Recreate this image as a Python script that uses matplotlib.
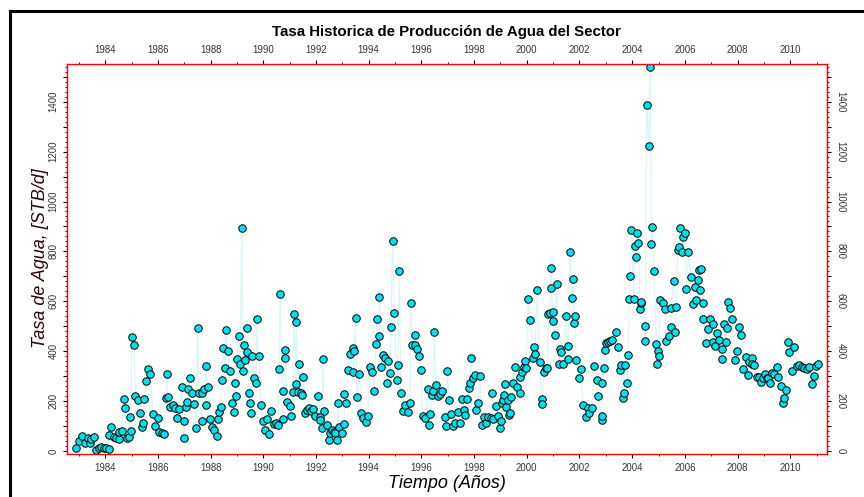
import numpy as np
import matplotlib
matplotlib.use("Agg")
import matplotlib.pyplot as plt
from matplotlib.lines import Line2D
from matplotlib.ticker import MultipleLocator, FuncFormatter

plt.rcParams['font.family'] = ['Liberation Sans', 'DejaVu Sans']

# fecha (años decimales) y tasa de agua [STB/d]
years = [
    1982.90, 1982.99, 1983.12, 1983.24, 1983.33, 1983.41, 1983.46, 1983.56, 1983.66, 1983.75,
    1983.84, 1983.94, 1984.04, 1984.14, 1984.15, 1984.24, 1984.32, 1984.42, 1984.51, 1984.53,
    1984.63, 1984.70, 1984.75, 1984.82, 1984.90, 1984.93, 1984.99, 1985.01, 1985.09, 1985.15,
    1985.24, 1985.31, 1985.39, 1985.43, 1985.49, 1985.56, 1985.63, 1985.72, 1985.81, 1985.90,
    1985.99, 1986.05, 1986.15, 1986.24, 1986.29, 1986.34, 1986.38, 1986.47, 1986.57, 1986.66,
    1986.72, 1986.82, 1986.91, 1986.98, 1987.00, 1987.07, 1987.10, 1987.16, 1987.23, 1987.30,
    1987.39, 1987.45, 1987.51, 1987.56, 1987.66, 1987.68, 1987.75, 1987.81, 1987.84, 1987.89,
    1987.97, 1988.06, 1988.14, 1988.23, 1988.27, 1988.32, 1988.39, 1988.42, 1988.47, 1988.54,
    1988.58, 1988.65, 1988.72, 1988.80, 1988.88, 1988.92, 1988.97, 1989.01, 1989.06, 1989.12,
    1989.18, 1989.23, 1989.25, 1989.31, 1989.39, 1989.40, 1989.47, 1989.49, 1989.55, 1989.58,
    1989.64, 1989.73, 1989.76, 1989.82, 1989.91, 1989.98, 1990.06, 1990.15, 1990.21, 1990.31,
    1990.39, 1990.49, 1990.57, 1990.59, 1990.64, 1990.73, 1990.76, 1990.82, 1990.84, 1990.89,
    1991.00, 1991.07, 1991.13, 1991.15, 1991.24, 1991.25, 1991.33, 1991.34, 1991.43, 1991.48,
    1991.51, 1991.58, 1991.65, 1991.73, 1991.81, 1991.89, 1991.98, 1992.07, 1992.15, 1992.17,
    1992.24, 1992.25, 1992.31, 1992.41, 1992.48, 1992.54, 1992.60, 1992.67, 1992.73, 1992.81,
    1992.83, 1992.86, 1992.98, 1993.07, 1993.08, 1993.13, 1993.21, 1993.30, 1993.40, 1993.42,
    1993.46, 1993.50, 1993.55, 1993.65, 1993.71, 1993.80, 1993.88, 1993.97, 1994.05, 1994.13,
    1994.22, 1994.27, 1994.31, 1994.40, 1994.41, 1994.47, 1994.55, 1994.62, 1994.71, 1994.75,
    1994.81, 1994.84, 1994.91, 1994.97, 1995.07, 1995.11, 1995.16, 1995.22, 1995.30, 1995.39,
    1995.49, 1995.57, 1995.59, 1995.64, 1995.74, 1995.76, 1995.83, 1995.91, 1995.98, 1996.06,
    1996.14, 1996.25, 1996.30, 1996.33, 1996.40, 1996.44, 1996.49, 1996.55, 1996.63, 1996.71,
    1996.80, 1996.90, 1996.93, 1996.98, 1997.05, 1997.12, 1997.20, 1997.28, 1997.38, 1997.47,
    1997.53, 1997.63, 1997.64, 1997.73, 1997.80, 1997.84, 1997.89, 1997.95, 1998.02, 1998.06,
    1998.14, 1998.22, 1998.31, 1998.38, 1998.46, 1998.54, 1998.63, 1998.69, 1998.72, 1998.82,
    1998.92, 1998.98, 1999.01, 1999.07, 1999.10, 1999.14, 1999.17, 1999.22, 1999.28, 1999.32,
    1999.37, 1999.40, 1999.48, 1999.57, 1999.64, 1999.73, 1999.76, 1999.82, 1999.89, 1999.93,
    1999.98, 2000.05, 2000.14, 2000.23, 2000.26, 2000.31, 2000.40, 2000.49, 2000.56, 2000.58,
    2000.65, 2000.72, 2000.78, 2000.81, 2000.87, 2000.91, 2000.93, 2000.99, 2001.00, 2001.07,
    2001.14, 2001.22, 2001.26, 2001.31, 2001.38, 2001.47, 2001.56, 2001.57, 2001.64, 2001.72,
    2001.75, 2001.81, 2001.82, 2001.88, 2001.97, 2002.04, 2002.14, 2002.24, 2002.33, 2002.37,
    2002.47, 2002.55, 2002.65, 2002.72, 2002.84, 2002.85, 2002.87, 2002.92, 2002.97, 2003.02,
    2003.08, 2003.17, 2003.25, 2003.38, 2003.46, 2003.55, 2003.59, 2003.64, 2003.67, 2003.72,
    2003.82, 2003.84, 2003.88, 2003.90, 2003.97, 2004.06, 2004.10, 2004.14, 2004.19, 2004.23,
    2004.31, 2004.32, 2004.35, 2004.49, 2004.50, 2004.55, 2004.64, 2004.68, 2004.73, 2004.77,
    2004.83, 2004.92, 2004.93, 2004.99, 2005.00, 2005.05, 2005.15, 2005.24, 2005.30, 2005.39,
    2005.47, 2005.49, 2005.57, 2005.64, 2005.68, 2005.72, 2005.76, 2005.81, 2005.90, 2005.91,
    2005.99, 2006.06, 2006.13, 2006.22, 2006.29, 2006.38, 2006.44, 2006.50, 2006.54, 2006.57,
    2006.62, 2006.67, 2006.69, 2006.80, 2006.88, 2006.97, 2007.05, 2007.07, 2007.14, 2007.23,
    2007.30, 2007.39, 2007.42, 2007.48, 2007.56, 2007.61, 2007.65, 2007.73, 2007.80, 2007.89,
    2007.96, 2008.06, 2008.13, 2008.21, 2008.30, 2008.40, 2008.44, 2008.53, 2008.55, 2008.63,
    2008.74, 2008.82, 2008.87, 2008.95, 2009.04, 2009.10, 2009.15, 2009.23, 2009.29, 2009.38,
    2009.48, 2009.54, 2009.63, 2009.71, 2009.77, 2009.83, 2009.90, 2009.96, 2010.05, 2010.15,
    2010.24, 2010.33, 2010.43, 2010.53, 2010.63, 2010.72, 2010.82, 2010.91, 2010.98, 2011.06,
]
tasa_agua = [
    11, 41, 60, 31, 51, 31, 47, 57, 4, 11,
    17, 11, 11, 7, 63, 97, 55, 52, 49, 77,
    80, 207, 172, 51, 57, 135, 81, 456, 426, 222,
    204, 151, 97, 111, 207, 281, 327, 307, 147, 100,
    131, 77, 71, 67, 214, 310, 218, 178, 186, 171,
    131, 167, 255, 52, 120, 178, 195, 248, 294, 234,
    188, 93, 492, 231, 121, 231, 247, 186, 339, 255,
    128, 95, 84, 60, 127, 155, 178, 283, 414, 334,
    484, 402, 321, 191, 156, 271, 220, 370, 462, 349,
    895, 321, 425, 365, 396, 493, 231, 192, 151, 381,
    294, 274, 529, 380, 184, 121, 84, 129, 67, 160,
    108, 113, 104, 330, 629, 128, 242, 372, 406, 196,
    182, 141, 235, 550, 267, 517, 236, 350, 234, 224,
    298, 151, 164, 171, 162, 167, 140, 222, 137, 124,
    93, 370, 160, 104, 44, 71, 84, 75, 71, 44,
    194, 97, 71, 108, 227, 191, 325, 389, 413, 317,
    401, 534, 218, 310, 151, 131, 117, 140, 338, 317,
    242, 429, 529, 462, 617, 338, 385, 372, 271, 362,
    311, 498, 840, 554, 283, 343, 723, 234, 162, 186,
    158, 192, 592, 426, 425, 466, 409, 382, 326, 141,
    131, 248, 103, 147, 226, 240, 477, 263, 220, 227,
    240, 136, 101, 321, 204, 147, 101, 113, 158, 113,
    208, 164, 144, 208, 253, 274, 372, 294, 305, 164,
    191, 301, 104, 135, 113, 135, 131, 231, 129, 180,
    140, 91, 121, 191, 204, 226, 267, 178, 204, 144,
    151, 215, 274, 338, 258, 231, 298, 317, 338, 361,
    331, 609, 525, 374, 417, 388, 647, 355, 208, 188,
    318, 331, 334, 549, 552, 732, 652, 558, 521, 466,
    671, 347, 409, 397, 347, 540, 369, 422, 799, 615,
    689, 513, 541, 365, 291, 327, 184, 137, 171, 153,
    171, 341, 286, 221, 124, 141, 274, 334, 405, 432,
    438, 442, 445, 476, 418, 325, 345, 211, 231, 345,
    271, 384, 610, 703, 885, 610, 822, 776, 872, 835,
    570, 592, 598, 502, 442, 1387, 1224, 1538, 828, 897,
    721, 429, 349, 401, 381, 605, 592, 568, 441, 462,
    498, 572, 683, 478, 578, 806, 816, 895, 799, 859,
    875, 648, 796, 699, 588, 659, 605, 685, 725, 645,
    728, 592, 529, 432, 489, 528, 438, 508, 422, 472,
    445, 369, 409, 508, 438, 494, 597, 574, 528, 365,
    401, 498, 466, 327, 378, 305, 358, 372, 349, 345,
    298, 295, 275, 291, 307, 294, 294, 271, 311, 309,
    338, 298, 261, 194, 211, 244, 438, 398, 322, 418,
    342, 345, 338, 331, 327, 335, 268, 301, 342, 349,
]

fig = plt.figure(figsize=(8.64, 4.97), dpi=100)
ax = fig.add_axes([0.0781, 0.0871, 0.8787, 0.7835])

# linea tenue que une los puntos y luego los marcadores
ax.plot(years, tasa_agua, color="#d8f6f6", lw=0.8, zorder=1)
ax.plot(years, tasa_agua, ls="none", marker="o", ms=5.4, mfc="#00e1ec",
        mec="black", mew=0.7, zorder=2)

ax.set_xlim(1982.57, 2011.38)
ax.set_ylim(-11, 1550)

ax.xaxis.set_major_locator(MultipleLocator(2))
ax.xaxis.set_minor_locator(MultipleLocator(1))
ax.yaxis.set_major_locator(MultipleLocator(100))
ax.yaxis.set_minor_locator(MultipleLocator(20))
ax.yaxis.set_major_formatter(FuncFormatter(lambda v, p: "%d" % v if v % 200 == 0 else ""))
ax.xaxis.set_major_formatter(FuncFormatter(lambda v, p: "%d" % v))

for s in ax.spines.values():
    s.set_color("red")
    s.set_linewidth(1.0)

ax.tick_params(axis="x", which="both", top=True, labeltop=True, direction="out",
               labelsize=6.9, labelcolor="#333333", pad=4)
ax.tick_params(axis="y", which="both", left=True, right=False, direction="out",
               labelsize=6.9, labelcolor="#333333", labelrotation=90, pad=3.5)
ax.tick_params(which="major", length=3, width=0.8)
ax.tick_params(which="minor", length=1.5, width=0.6)
for lbl in ax.get_yticklabels():
    lbl.set_va("center")

# eje derecho con etiquetas giradas
sec = ax.secondary_yaxis("right")
sec.yaxis.set_major_locator(MultipleLocator(100))
sec.yaxis.set_minor_locator(MultipleLocator(20))
sec.yaxis.set_major_formatter(FuncFormatter(lambda v, p: "%d" % v if v % 200 == 0 else ""))
sec.tick_params(which="both", direction="out", labelsize=6.9, labelcolor="#333333",
                labelrotation=-90, pad=3.5)
sec.tick_params(which="major", length=3, width=0.8)
sec.tick_params(which="minor", length=1.5, width=0.6)
sec.spines["right"].set_color("red")
for lbl in sec.get_yticklabels():
    lbl.set_va("center")

fig.text(0.517, 0.935, "Tasa Historica de Producción de Agua del Sector",
         ha="center", va="center", fontsize=10.8, fontweight="bold")
fig.text(0.517, 0.028, "Tiempo (Años)", ha="center", va="center",
         fontsize=13, style="italic")
fig.text(0.047, 0.48, "Tasa de Agua, [STB/d]", ha="center", va="center",
         rotation=90, fontsize=13, style="italic", color="#2b0808")

# marco negro de la figura
fig.add_artist(Line2D([0.0116, 0.0116], [0.0, 0.978], color="black", lw=2.2,
                      transform=fig.transFigure))
fig.add_artist(Line2D([0.0116, 1.0], [0.978, 0.978], color="black", lw=2.2,
                      transform=fig.transFigure))

fig.savefig("out.png", dpi=100)
